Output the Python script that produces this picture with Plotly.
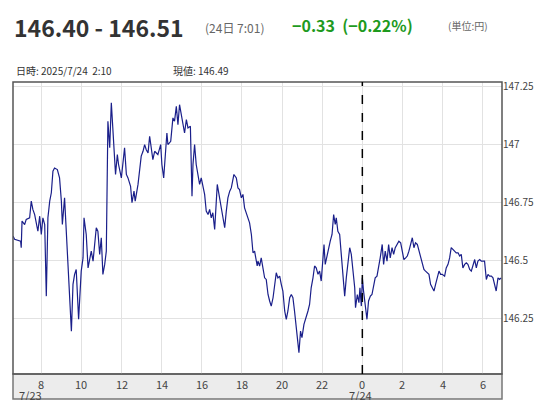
import plotly.graph_objects as go

# hours since 2025-07-23 00:00
hours = [6.59,6.67,6.97,7.00,7.04,7.17,7.25,7.42,7.50,7.58,7.67,7.83,7.92,8.00,8.08,8.17,8.25,8.33,8.42,8.50,8.58,8.66,8.80,8.91,9.00,9.05,9.16,9.30,9.38,9.50,9.58,9.66,9.74,9.86,9.99,10.08,10.13,10.24,10.33,10.41,10.49,10.58,10.66,10.74,10.82,10.91,10.99,11.07,11.16,11.24,11.32,11.41,11.49,11.57,11.65,11.70,11.79,11.85,11.99,12.15,12.24,12.32,12.45,12.52,12.62,12.68,12.82,12.90,12.98,13.07,13.15,13.23,13.32,13.40,13.48,13.56,13.65,13.81,13.95,14.01,14.10,14.18,14.26,14.31,14.45,14.56,14.64,14.73,14.81,14.89,14.98,15.06,15.14,15.23,15.31,15.43,15.51,15.56,15.64,15.72,15.81,15.89,15.97,16.06,16.14,16.22,16.31,16.39,16.47,16.55,16.64,16.77,16.89,16.97,17.05,17.14,17.22,17.30,17.39,17.47,17.60,17.72,17.80,17.88,17.97,18.05,18.13,18.27,18.38,18.47,18.55,18.63,18.76,
 18.80,18.88,18.96,19.05,19.13,19.21,19.30,19.38,19.46,19.55,19.63,19.71,19.79,19.88,19.96,20.04,20.13,20.21,20.29,20.38,20.46,20.54,20.62,20.71,20.79,20.84,20.92,20.99,21.09,21.21,21.29,21.37,21.45,21.54,21.62,21.70,21.79,21.87,21.95,22.04,22.09,22.15,22.25,22.32,22.40,22.49,22.57,22.65,22.70,22.78,22.87,22.95,23.03,23.12,23.20,23.28,23.37,23.45,23.53,23.62,23.66,23.75,23.83,23.88,23.95,24.00,24.06,24.15,24.23,24.31,24.40,24.48,24.56,24.64,24.73,24.81,24.89,24.99,25.06,25.14,25.23,25.31,25.39,25.48,25.56,25.64,25.72,25.82,25.91,25.99,26.07,26.16,26.24,26.32,26.41,26.49,26.57,26.65,26.74,26.82,26.90,26.99,27.07,27.15,27.24,27.32,27.40,27.49,27.57,27.65,27.73,27.82,27.90,27.98,28.10,28.18,28.27,28.35,28.43,28.52,28.60,28.68,28.77,28.85,28.93,29.01,29.10,29.18,29.26,29.35,29.43,29.51,29.60,29.68,29.76,29.85,29.93,30.01,30.09,30.18,30.26,30.34,30.43,30.51,30.59,30.67,30.76,30.84,30.92]
prices = [146.605,146.591,146.583,146.555,146.670,146.655,146.677,146.684,146.756,146.720,146.698,146.626,146.691,146.612,146.684,146.655,146.346,146.684,146.756,146.792,146.885,146.899,146.892,146.856,146.756,146.655,146.770,146.533,146.397,146.195,146.397,146.440,146.461,146.246,146.454,146.511,146.684,146.612,146.468,146.497,146.540,146.497,146.583,146.641,146.626,146.526,146.598,146.440,146.483,146.540,147.101,146.986,147.180,147.072,146.971,146.871,146.957,146.914,146.856,146.986,146.871,146.856,146.820,146.749,146.799,146.756,146.828,146.899,146.950,146.971,147.000,146.978,146.964,147.036,146.971,146.935,146.971,146.957,147.000,146.914,146.856,146.943,147.050,147.000,147.014,147.115,147.101,147.165,147.086,147.172,147.129,147.094,147.050,147.108,147.072,147.079,146.777,146.914,147.000,146.914,146.871,146.828,146.856,146.813,146.785,146.713,146.698,146.720,146.684,146.706,146.634,146.828,146.770,146.727,146.698,146.641,146.713,146.770,146.799,146.813,146.871,146.856,146.813,146.806,146.770,146.785,146.727,146.684,146.662,146.612,146.533,146.540,146.476,
 146.497,146.476,146.511,146.461,146.425,146.418,146.353,146.325,146.303,146.339,146.397,146.447,146.425,146.432,146.397,146.368,146.282,146.246,146.282,146.339,146.353,146.339,146.282,146.195,146.152,146.102,146.195,146.167,146.224,146.267,146.282,146.310,146.382,146.425,146.476,146.468,146.440,146.454,146.411,146.511,146.569,146.483,146.526,146.540,146.583,146.612,146.698,146.655,146.684,146.626,146.612,146.526,146.425,146.346,146.425,146.483,146.555,146.526,146.454,146.382,146.296,146.353,146.318,146.382,146.303,146.425,146.368,146.310,146.246,146.325,146.346,146.353,146.397,146.425,146.432,146.468,146.511,146.569,146.483,146.540,146.497,146.569,146.511,146.555,146.526,146.555,146.569,146.583,146.576,146.540,146.504,146.511,146.519,146.540,146.569,146.598,146.555,146.576,146.569,146.540,146.511,146.483,146.461,146.454,146.447,146.440,146.397,146.382,146.368,146.397,146.425,146.454,146.440,146.440,146.432,146.468,146.483,146.511,146.555,146.547,146.540,146.533,146.533,146.519,146.526,146.468,146.483,146.490,146.483,146.461,146.454,146.476,146.504,146.468,146.497,146.504,146.497,146.497,146.497,146.418,146.440,146.432,146.432,146.425,146.397,146.368,146.425,146.418,146.425]

x_tickvals = [8, 10, 12, 14, 16, 18, 20, 22, 24, 26, 28, 30]
x_ticktext = ["8", "10", "12", "14", "16", "18", "20", "22", "0", "2", "4", "6"]
y_tickvals = [146.25, 146.5, 146.75, 147, 147.25]
y_ticktext = ["146.25", "146.5", "146.75", "147", "147.25"]

FONT = "Noto Sans CJK JP"
W, H = 551, 400
L, R, T, B = 5, 494, 74, 366

fig = go.Figure(go.Scatter(x=hours, y=prices, mode="lines",
                           line=dict(color="#1a1f8a", width=1.2), hoverinfo="skip"))

fig.update_layout(
    width=W, height=H, paper_bgcolor="white", plot_bgcolor="white",
    margin=dict(l=L, r=W - R, t=T, b=H - B), showlegend=False,
    font=dict(family=FONT, color="#333", size=11),
    xaxis=dict(range=[6.59, 30.96], tickvals=x_tickvals, showticklabels=False,
               showgrid=True, gridcolor="#e2e2e2", zeroline=False, ticks="", showline=False),
    yaxis=dict(range=[146.01, 147.27], side="right", tickvals=y_tickvals, ticktext=y_ticktext,
               showgrid=True, gridcolor="#e2e2e2", zeroline=False, ticks="",
               tickfont=dict(size=10, color="#444"), showline=False),
    shapes=[
        dict(type="rect", xref="paper", yref="paper", x0=0, x1=1, y0=-25 / 292, y1=0,
             fillcolor="#ececec", line=dict(color="#777", width=1.5), layer="below"),
        dict(type="rect", xref="paper", yref="paper", x0=0, x1=1, y0=0, y1=1,
             line=dict(color="#555", width=1.5)),
        dict(type="line", xref="x", yref="paper", x0=24, x1=24, y0=0, y1=1,
             line=dict(color="black", width=1.5, dash="dash")),
    ],
)

def py2paper(py):
    return (B - py) / (B - T)

anns = []
for v, t in zip(x_tickvals, x_ticktext):
    anns.append(dict(text=t, x=v, xref="x", y=py2paper(376), yref="paper",
                     xanchor="center", yanchor="middle", showarrow=False,
                     font=dict(size=11, color="#444", family=FONT)))

page_texts = [
    dict(text="<b>146.40 - 146.51</b>", x=4, y=19, size=23, color="#333"),
    dict(text="(24日 7:01)", x=195, y=19, size=12, color="#666"),
    dict(text="<b>−0.33  (−0.22%)</b>", x=282, y=17, size=16, color="#1e9a1e"),
    dict(text="(単位:円)", x=438, y=17, size=10, color="#666"),
    dict(text="日時: 2025/7/24  2:10", x=6, y=63, size=10, color="#333"),
    dict(text="現値: 146.49", x=163, y=63, size=10, color="#333"),
    dict(text="7/23", x=9, y=387, size=11, color="#444"),
    dict(text="7/24", x=339, y=387, size=11, color="#444"),
]
for a in page_texts:
    anns.append(dict(text=a["text"], x=(a["x"] - L) / (R - L), y=py2paper(a["y"]),
                     xref="paper", yref="paper", xanchor="left", yanchor="middle",
                     showarrow=False, font=dict(size=a["size"], color=a["color"], family=FONT)))
fig.update_layout(annotations=anns)
fig.write_html("out.html")
